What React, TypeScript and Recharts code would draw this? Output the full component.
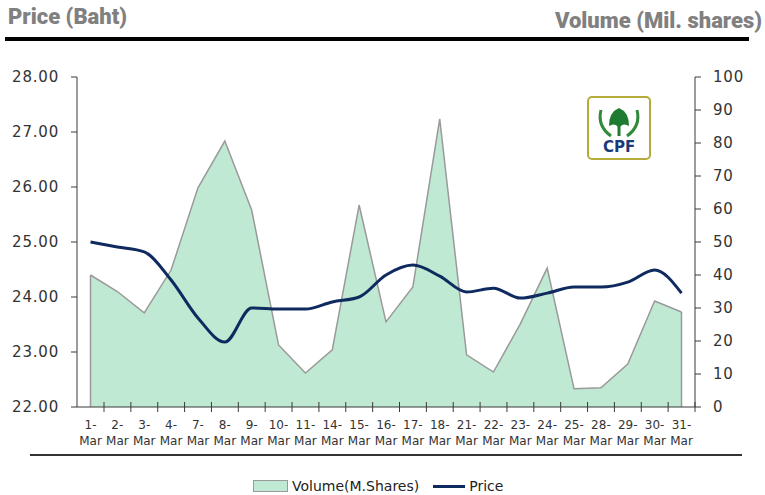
import { ComposedChart, Area, Line, XAxis, YAxis, ReferenceLine } from 'recharts'

const dates = ['1-Mar', '2-Mar', '3-Mar', '4-Mar', '7-Mar', '8-Mar', '9-Mar', '10-Mar', '11-Mar', '14-Mar', '15-Mar', '16-Mar',
  '17-Mar', '18-Mar', '21-Mar', '22-Mar', '23-Mar', '24-Mar', '25-Mar', '28-Mar', '29-Mar', '30-Mar', '31-Mar']
const volume = [40, 35, 28.5, 41.5, 66.4, 80.6, 59.7, 18.8, 10.3, 17.3, 61.2, 25.8, 36.4, 87.3, 15.8, 10.6, 25.2, 42.1, 5.5, 5.8, 13, 32.1, 28.8]
const price = [25.0, 24.91, 24.82, 24.31, 23.62, 23.18, 23.8, 23.78, 23.78, 23.91, 24.0, 24.4, 24.58, 24.38, 24.09, 24.16, 23.98, 24.07, 24.18, 24.18, 24.27, 24.49, 24.07]
const priceTicks = [22, 23, 24, 25, 26, 27, 28]
const volumeTicks = [0, 10, 20, 30, 40, 50, 60, 70, 80, 90, 100]

const data = dates.map((d, i) => ({ date: d, volume: volume[i], price: price[i] }))
const last = dates.length - 1

const AXIS = '#3a3a3a'
const tickFont = { fill: '#333', fontSize: 15, fontFamily: 'DejaVu Sans', letterSpacing: 0.8 }

// two-line date label, tick marks sit on the category boundaries
const DateTick = (props: any) => {
  const { x, y, payload } = props
  const [day, mon] = String(payload.value).split('-')
  return (
    <g>
      <line x1={x + 13.5} x2={x + 13.5} y1={y - 5} y2={y + 5} stroke={AXIS} strokeWidth={1} />
      <text x={x} y={y + 22} textAnchor="middle" fill="#333" fontSize={12} fontFamily="DejaVu Sans">{day}-</text>
      <text x={x} y={y + 38} textAnchor="middle" fill="#333" fontSize={12} fontFamily="DejaVu Sans">{mon}</text>
    </g>
  )
}

const Logo = () => (
  <svg width={64} height={64} style={{ position: 'absolute', left: 587, top: 96 }}>
    <rect x={1} y={1} width={62} height={62} rx={4} fill="#fff" stroke="#b5ab3a" strokeWidth={2} />
    <path d="M14 14 Q10 30 24 40" stroke="#2f8a3a" strokeWidth={3} fill="none" />
    <path d="M50 14 Q54 30 40 40" stroke="#2f8a3a" strokeWidth={3} fill="none" />
    <path d="M22 30 Q22 16 32 12 Q42 16 42 30 Q36 26 32 32 Q28 26 22 30 Z" fill="#1f7a32" />
    <rect x={30.5} y={28} width={3} height={12} fill="#1f7a32" />
    <text x={32} y={56} textAnchor="middle" fill="#1b3a7a" fontSize={15} fontWeight={900} fontFamily="DejaVu Sans">CPF</text>
  </svg>
)

export default function App() {
  return (
    <div style={{ position: 'absolute', left: 0, top: 0, width: 765, height: 495, background: '#fff', fontFamily: 'DejaVu Sans' }}>
      <div style={{ position: 'absolute', left: 8, top: 4, fontFamily: 'Roboto', fontWeight: 900, fontSize: 22, color: '#808080' }}>Price (Baht)</div>
      <div style={{ position: 'absolute', right: 3, top: 8, fontFamily: 'Roboto', fontWeight: 900, fontSize: 22, color: '#808080' }}>Volume (Mil. shares)</div>
      <div style={{ position: 'absolute', left: 5, top: 37, width: 744, height: 4, background: '#000' }} />

      <ComposedChart width={765} height={495} data={data} margin={{ top: 77, right: 10, bottom: 0, left: 0 }}
        style={{ position: 'absolute', left: 0, top: 0 }}>
        <XAxis dataKey="date" tick={<DateTick />} tickLine={false} tickSize={0} tickMargin={0} interval={0}
          padding={{ left: 13.5, right: 13.5 }} stroke={AXIS} height={88} />
        <YAxis yAxisId="p" orientation="left" domain={[22, 28]} ticks={priceTicks} width={77} stroke={AXIS}
          tickFormatter={(v: number) => v.toFixed(2)} tick={tickFont} tickSize={6} tickMargin={12} />
        <YAxis yAxisId="v" orientation="right" domain={[0, 100]} ticks={volumeTicks} width={60} stroke={AXIS}
          tick={{ ...tickFont, textAnchor: 'start' }} tickSize={6} tickMargin={12} />
        <Area yAxisId="v" type="linear" dataKey="volume" fill="#bfe9d2" fillOpacity={1} stroke="#9a9a9a" strokeWidth={1.5} isAnimationActive={false} />
        {/* closing edges of the volume area */}
        <ReferenceLine yAxisId="v" segment={[{ x: dates[0], y: 0 }, { x: dates[0], y: volume[0] }]} stroke="#9a9a9a" strokeWidth={1.5} />
        <ReferenceLine yAxisId="v" segment={[{ x: dates[last], y: 0 }, { x: dates[last], y: volume[last] }]} stroke="#9a9a9a" strokeWidth={1.5} />
        <Line yAxisId="p" type="monotone" dataKey="price" stroke="#0f2a5f" strokeWidth={3} dot={false} isAnimationActive={false} />
      </ComposedChart>

      <Logo />

      <div style={{ position: 'absolute', left: 30, top: 454, width: 712, height: 2, background: '#333' }} />

      <div style={{ position: 'absolute', left: 253, top: 478, display: 'flex', alignItems: 'center', fontSize: 14, color: '#222', fontFamily: 'DejaVu Sans' }}>
        <span style={{ display: 'inline-block', width: 33, height: 10, background: '#bfe9d2', border: '1px solid #9a9a9a', marginRight: 4 }} />
        <span>Volume(M.Shares)</span>
        <span style={{ display: 'inline-block', width: 32, height: 3, background: '#0f2a5f', marginLeft: 14, marginRight: 4 }} />
        <span>Price</span>
      </div>
    </div>
  )
}
